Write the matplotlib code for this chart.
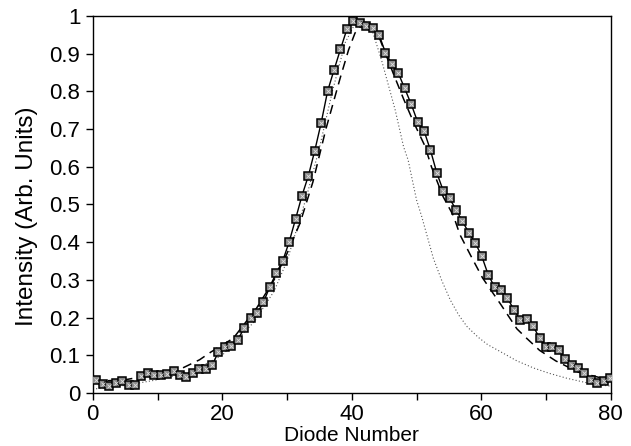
import numpy as np
import matplotlib
matplotlib.use("Agg")
import matplotlib.pyplot as plt

# measured data (81 diodes)
diode_pos = np.linspace(0.57, 79.9, 81)
intensity = [0.034, 0.024, 0.019, 0.027, 0.032, 0.021, 0.021, 0.045, 0.054, 0.047,
             0.047, 0.049, 0.058, 0.047, 0.043, 0.052, 0.064, 0.064, 0.074, 0.108,
             0.121, 0.125, 0.141, 0.172, 0.198, 0.211, 0.240, 0.282, 0.318, 0.350,
             0.400, 0.461, 0.523, 0.576, 0.643, 0.717, 0.801, 0.857, 0.912, 0.965,
             0.987, 0.982, 0.973, 0.967, 0.951, 0.903, 0.873, 0.849, 0.808, 0.767,
             0.720, 0.696, 0.645, 0.584, 0.537, 0.516, 0.486, 0.455, 0.425, 0.398,
             0.363, 0.314, 0.281, 0.272, 0.252, 0.221, 0.194, 0.196, 0.178, 0.145,
             0.123, 0.123, 0.113, 0.090, 0.074, 0.065, 0.054, 0.035, 0.026, 0.032,
             0.039]

# dashed model curve
dash_x = [0, 5, 10, 13.5, 16.5, 18.2, 21.7, 25.3, 28, 30, 32, 34, 36, 38.2, 39.5,
          40.5, 41.5, 42.5, 43.3, 44.4, 45.4, 46.4, 48, 49.5, 51.3, 52.3, 54.1, 55.7,
          56.7, 58.5, 60.2, 63, 65.5, 67, 69, 71.5, 75, 78, 80]
dash_y = [0.030, 0.035, 0.050, 0.063, 0.088, 0.108, 0.145, 0.225, 0.300, 0.370, 0.450,
          0.560, 0.700, 0.835, 0.910, 0.955, 0.975, 0.985, 0.975, 0.936, 0.892, 0.848,
          0.780, 0.720, 0.655, 0.600, 0.521, 0.470, 0.420, 0.360, 0.305, 0.235, 0.170,
          0.145, 0.113, 0.085, 0.055, 0.042, 0.035]

# dotted model curve
dot_x = [0, 5, 10, 15, 20, 25, 28, 30, 33, 35, 37, 39, 40.5, 41.5, 42.5, 43.3, 44.6,
         46.7, 48, 48.7, 50, 50.8, 52.6, 53.9, 55.2, 56.5, 57.8, 59.5, 61, 62.9, 65.5,
         68.1, 70.5, 73.2, 76, 78.4, 80]
dot_y = [0.010, 0.020, 0.035, 0.055, 0.100, 0.190, 0.270, 0.350, 0.520, 0.650, 0.800,
         0.930, 0.980, 0.990, 0.980, 0.954, 0.883, 0.751, 0.653, 0.618, 0.512, 0.468,
         0.357, 0.298, 0.247, 0.207, 0.176, 0.148, 0.128, 0.110, 0.085, 0.066, 0.052,
         0.039, 0.028, 0.021, 0.018]

plt.rcParams['font.family'] = ['Liberation Sans', 'DejaVu Sans']

fig = plt.figure(figsize=(6.31, 4.46), dpi=100)
ax = fig.add_axes([0.147, 0.119, 0.821, 0.845])

ax.plot(dot_x, dot_y, color='#555555', linestyle=(0, (1, 2)), linewidth=0.8, zorder=2)
ax.plot(dash_x, dash_y, color='black', linestyle=(0, (6, 4)), linewidth=1.1, zorder=2)
ax.plot(diode_pos, intensity, color='black', linewidth=1.0, marker='s',
        markersize=5.5, markerfacecolor='#8a8a8a', markeredgecolor='black',
        markeredgewidth=1.1, zorder=3)
ax.plot(diode_pos, intensity, linestyle='none', marker='x', markersize=2.5,
        markeredgecolor='#e0e0e0', markeredgewidth=0.6, zorder=4)

ax.set_xlim(0, 80)
ax.set_ylim(0, 1)
ax.set_xticks([0, 20, 40, 60, 80])
ax.set_xticks([10, 30, 50, 70], minor=True)
ax.set_yticks(np.arange(0, 1.01, 0.1))
ax.set_yticklabels(['0', '0.1', '0.2', '0.3', '0.4', '0.5', '0.6', '0.7', '0.8', '0.9', '1'])
ax.tick_params(axis='both', which='both', direction='out', length=5, width=1,
               labelsize=16)
ax.tick_params(axis='x', which='minor', length=5)
ax.tick_params(axis='y', pad=4)
ax.tick_params(axis='x', pad=3)
for s in ax.spines.values():
    s.set_linewidth(1.0)

ax.set_xlabel('Diode Number', fontsize=15, labelpad=1)
ax.set_ylabel('Intensity (Arb. Units)', fontsize=17.5, labelpad=2)
ax.yaxis.set_label_coords(-0.105, 0.47)

fig.savefig('out.png', dpi=100)
